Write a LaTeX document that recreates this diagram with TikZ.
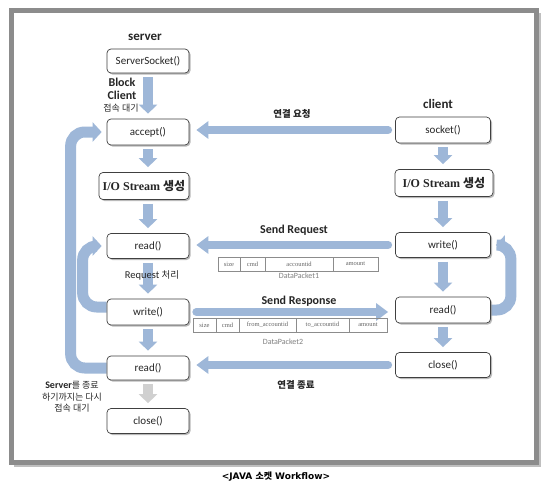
\documentclass[tikz,border=0pt]{standalone}
\usepackage{fontspec}
\setmainfont{Carlito}
\newfontfamily\kr{Noto Sans CJK KR}
\newfontfamily\slab{Liberation Serif}
\newfontfamily\verd{DejaVu Sans}
\usetikzlibrary{arrows.meta,shadows,calc}
\definecolor{ablue}{RGB}{158,183,216}
\definecolor{agray}{RGB}{208,208,208}
\pgfdeclarelayer{bg}
\pgfsetlayers{bg,main}
\tikzset{
  box/.style={draw=black!75, line width=0.7pt, rounded corners=4pt, fill=white, inner sep=0pt,
    drop shadow={shadow xshift=1.5pt, shadow yshift=-1.5pt, fill=black!45, opacity=0.6},
    font=\fontsize{11}{13}\selectfont, text=black!85},
  sbox/.style={box, minimum width=82pt},
  cbox/.style={box, minimum width=95pt},
  iobox/.style={box, font=\slab\bfseries\fontsize{12}{14}\selectfont},
  lbl/.style={inner sep=0pt, text=black!85},
  vdown/.style={draw=ablue, line width=10pt, -{Triangle[width=18pt,length=9pt,fill=ablue]}, shorten <=4pt, shorten >=5pt},
  hflow/.style={draw=ablue, line width=8pt, line cap=round, -{Triangle[width=17pt,length=12pt,fill=ablue]}, shorten <=7pt, shorten >=7pt},
  looparrow/.style={draw=ablue, line width=11pt, rounded corners=14pt, -{Triangle[width=19pt,length=9pt,fill=ablue]}, shorten >=5pt},
  cell/.style={draw=black!45, line width=0.4pt, minimum height=14pt, inner sep=0pt,
    font=\slab\fontsize{6.5}{7}\selectfont, text=black!60},
}
\begin{document}
\begin{tikzpicture}[x=1pt,y=-1pt]
\useasboundingbox (0,0) rectangle (549,488);
\begin{pgfonlayer}{bg}
  \fill[white] (0,0) rectangle (549,488);
  \fill[black!25] (14,13) rectangle (541,467);
  \draw[black!45, line width=5pt, fill=white] (11,10) rectangle (536,462);
\end{pgfonlayer}

% server column
\node[lbl, font=\bfseries\fontsize{13}{15}\selectfont] (srvlbl) at (145,37) {server};
\node[sbox, minimum height=24pt] (ss) at (148,61) {ServerSocket()};
\node[sbox, minimum height=26pt] (accept) at (148,132) {accept()};
\node[iobox, minimum width=90pt, minimum height=27pt] (sio) at (144,186) {I/O Stream {\kr 생성}};
\node[sbox, minimum height=25pt] (sread1) at (148,246) {read()};
\node[sbox, minimum height=26pt] (swrite) at (148,312) {write()};
\node[sbox, minimum height=24pt] (sread2) at (148,368) {read()};
\node[sbox, minimum height=25pt] (sclose) at (148,421) {close()};

% client column
\node[lbl, font=\bfseries\fontsize{13}{15}\selectfont] (clilbl) at (438,104) {client};
\node[cbox, minimum height=26pt] (socket) at (443,130) {socket()};
\node[iobox, minimum width=98pt, minimum height=27pt] (cio) at (444,183) {I/O Stream {\kr 생성}};
\node[cbox, minimum height=25pt] (cwrite) at (443,245) {write()};
\node[cbox, minimum height=26pt] (cread) at (443,310) {read()};
\node[cbox, minimum height=25pt] (cclose) at (443,365) {close()};

% labels
\node[lbl, align=center, font=\bfseries\fontsize{12}{13}\selectfont] (block) at (122,88.5) {Block\\Client};
\node[lbl, font=\kr\fontsize{9}{10}\selectfont] (wait1) at (121,108) {접속 대기};
\node[lbl, font=\fontsize{10.5}{12}\selectfont] (reqproc) at (152,275) {Request {\kr\fontsize{9.5}{10}\selectfont 처리}};
\node[lbl, align=center, font=\kr\fontsize{9}{11.5}\selectfont] (restart) at (72,397)
  {{\normalfont\bfseries\fontsize{10}{11}\selectfont Server}를 종료\\하기까지는 다시\\접속 대기};
\node[lbl, font=\kr\bfseries\fontsize{9.5}{11}\selectfont] (connreq) at (292,114) {연결 요청};
\node[lbl, font=\bfseries\fontsize{12}{14}\selectfont] (sendreq) at (294,230) {Send Request};
\node[lbl, font=\bfseries\fontsize{12}{14}\selectfont] (sendresp) at (299,301) {Send Response};
\node[lbl, font=\kr\bfseries\fontsize{9.5}{11}\selectfont] (connend) at (296,385) {연결 종료};

% data packets
\node[cell, minimum width=22pt] (p1a) at (229,264) {size};
\node[cell, minimum width=25pt] (p1b) at (252.5,264) {cmd};
\node[cell, minimum width=68pt] (p1c) at (299,264) {accountid};
\node[cell, minimum width=45pt] (p1d) at (355.5,264) {amount};
\node[lbl, font=\fontsize{8}{9}\selectfont, text=black!50] (dp1) at (299,276) {DataPacket1};

\node[cell, minimum width=23pt] (p2a) at (204.5,325) {size};
\node[cell, minimum width=23pt] (p2b) at (227.5,325) {cmd};
\node[cell, minimum width=57pt] (p2c) at (267.5,325) {from\_accountid};
\node[cell, minimum width=53pt] (p2d) at (322.5,325) {to\_accountid};
\node[cell, minimum width=38pt] (p2e) at (368,325) {amount};
\node[lbl, font=\fontsize{8}{9}\selectfont, text=black!50] (dp2) at (283,342) {DataPacket2};

% caption
\node[lbl, font=\verd\bfseries\fontsize{9}{11}\selectfont, text=black] (caption) at (276,477) {<JAVA {\kr 소켓} Workflow>};

% arrows
\begin{pgfonlayer}{bg}
  \draw[vdown] (ss) -- (accept);
  \draw[vdown] (accept) -- (sio.north -| accept);
  \draw[vdown] (sio.south -| sread1) -- (sread1);
  \draw[vdown] (sread1) -- (swrite);
  \draw[vdown] (swrite) -- (sread2);
  \draw[vdown, draw=agray, -{Triangle[width=18pt,length=9pt,fill=agray]}] (sread2) -- (sclose);

  \draw[vdown] (socket) -- (cio.north -| socket);
  \draw[vdown] (cio.south -| cwrite) -- (cwrite);
  \draw[vdown] (cwrite) -- (cread);
  \draw[vdown] (cread) -- (cclose);

  \draw[hflow] (socket.west) -- (socket.west -| accept.east);
  \draw[hflow] (cwrite.west) -- (cwrite.west -| sread1.east);
  \draw[hflow] (swrite.east) -- (swrite.east -| cread.west);
  \draw[hflow] (cclose.west) -- (cclose.west -| sread2.east);

  \draw[looparrow] (sread2.west) -- ++(-36,0) |- (accept.west);
  \draw[looparrow] ($(swrite.west)+(0,-5)$) -- ++(-24,0) |- (sread1.west);
  \draw[looparrow] (cread.east) -- ++(20,0) |- (cwrite.east);
\end{pgfonlayer}
\end{tikzpicture}
\end{document}
